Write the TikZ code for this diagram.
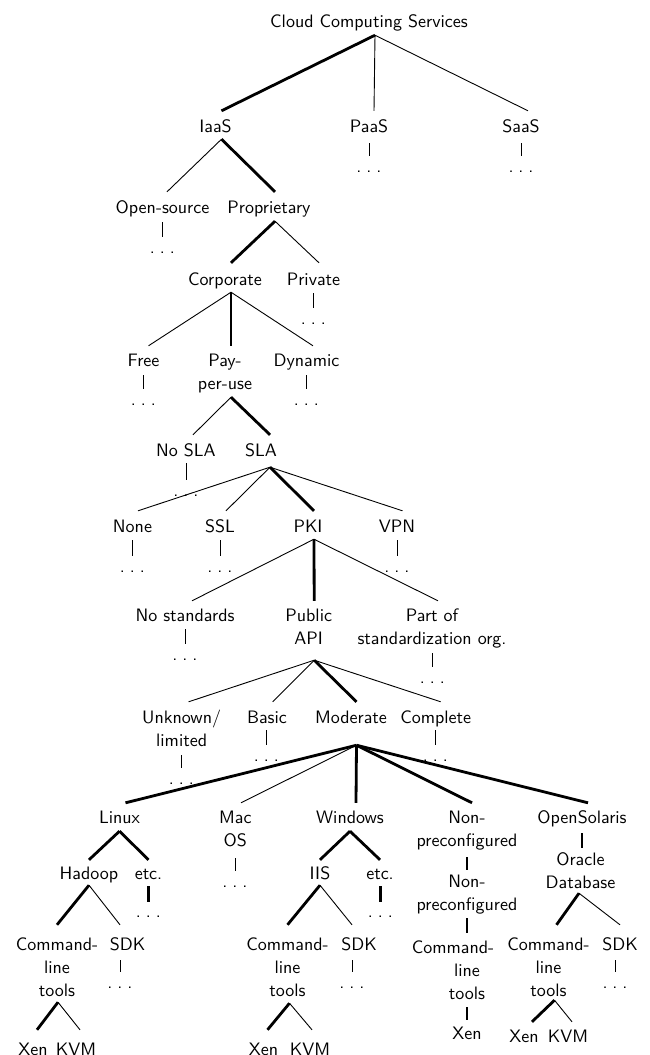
\documentclass[tikz,border=0pt]{standalone}
\usepackage{fontspec}
\newfontfamily\treefont{lmsans10-regular.otf}
\newcommand{\mlt}[1]{\begin{tabular}[t]{@{}c@{}}#1\end{tabular}}
\newcommand{\spreaddots}{.\kern5pt.\kern5pt.}
\tikzset{
  lab/.style={anchor=base, inner sep=0pt},
  dts/.style={anchor=base, inner sep=0pt, text height=16pt, text depth=0pt},
  thinedge/.style={line width=0.9pt},
  thickedge/.style={line width=2.8pt},
}
\begin{document}
\begin{tikzpicture}[x=1pt,y=-1pt,font=\treefont\fontsize{18}{23}\selectfont]
\useasboundingbox (0,0) rectangle (650,1055);
% ---- upper levels
\node[lab,text height=13pt,text depth=8pt] (root) at (369,27) {Cloud Computing Services};
\node[lab,text height=21.5pt,text depth=6.5pt] (iaas) at (215.5,132.5) {IaaS};
\node[lab,text height=21.5pt,text depth=10.5pt] (paas) at (369,132.5) {PaaS};
\node[lab,text height=21.5pt,text depth=10.5pt] (saas) at (521,132.5) {SaaS};
\node[dts] (dpaas) at (369,172) {\spreaddots};
\node[dts] (dsaas) at (521,172) {\spreaddots};
\node[lab,text height=21pt,text depth=9pt] (opensrc) at (162.5,213) {Open-source};
\node[lab,text height=21pt,text depth=8pt] (prop) at (269,213) {Proprietary};
\node[dts] (dopensrc) at (162.5,253) {\spreaddots};
\node[lab,text height=22pt,text depth=7pt] (corp) at (225,285) {Corporate};
\node[lab,text height=22pt,text depth=8pt] (priv) at (313.5,285) {Private};
\node[dts] (dpriv) at (313.5,324.5) {\spreaddots};
\node[lab,text height=20pt,text depth=9pt] (free) at (143.5,366) {Free};
\node[lab,text height=20pt,text depth=31pt] (pay) at (225,366) {\mlt{Pay-\\per-use}};
\node[lab,text height=20pt,text depth=9pt] (dyn) at (306.5,366) {Dynamic};
\node[dts] (dfree) at (143.5,405) {\spreaddots};
\node[dts] (ddyn) at (306.5,405) {\spreaddots};
\node[lab,text height=21pt,text depth=7pt] (nosla) at (186,456) {No SLA};
\node[lab,text height=21pt,text depth=11pt] (sla) at (261,456) {SLA};
\node[dts] (dnosla) at (186,496) {\spreaddots};
\node[lab,text height=21pt,text depth=8pt] (none) at (132.5,532) {None};
\node[lab,text height=21pt,text depth=8pt] (ssl) at (220,532) {SSL};
\node[lab,text height=21pt,text depth=7pt] (pki) at (308,532) {PKI};
\node[lab,text height=21pt,text depth=8pt] (vpn) at (397,532) {VPN};
\node[dts] (dnone) at (132.5,572) {\spreaddots};
\node[dts] (dssl) at (220,572) {\spreaddots};
\node[dts] (dvpn) at (397,572) {\spreaddots};
\node[lab,text height=20pt,text depth=8pt] (nostd) at (185,621) {No standards};
\node[lab,text height=20pt,text depth=39pt] (pub) at (308.7,621) {\mlt{Public\\API}};
\node[lab,text height=20pt,text depth=32pt] (partof) at (432,621) {\mlt{Part of\\standardization org.}};
\node[dts] (dnostd) at (185,660.5) {\spreaddots};
\node[dts] (dpartof) at (432.5,683) {\spreaddots};
\node[lab,text height=21pt,text depth=32pt] (unk) at (181.6,723) {\mlt{Unknown/\\limited}};
\node[lab,text height=21pt,text depth=7pt] (basic) at (267,723) {Basic};
\node[lab,text height=21pt,text depth=22pt] (mod) at (351,723) {Moderate};
\node[lab,text height=21pt,text depth=7pt] (compl) at (435.7,723) {Complete};
\node[dts] (dunk) at (181.3,784.5) {\spreaddots};
\node[dts] (dbasic) at (266.5,761) {\spreaddots};
\node[dts] (dcompl) at (435.3,761) {\spreaddots};
% ---- operating systems
\node[lab,text height=20.5pt,text depth=7.5pt] (linux) at (119.5,823.5) {Linux};
\node[lab,text height=20.5pt,text depth=34.5pt] (mac) at (235.3,823.5) {\mlt{Mac\\OS}};
\node[lab,text height=20.5pt,text depth=7.5pt] (win) at (350,823.5) {Windows};
\node[lab,text height=20.5pt,text depth=33.5pt] (np1) at (467,823.5) {\mlt{Non-\\preconfigured}};
\node[lab,text height=20.5pt,text depth=9.5pt] (os) at (582,823.5) {OpenSolaris};
\node[dts] (dmac) at (235,887) {\spreaddots};
% ---- Linux subtree
\node[lab,text height=19pt,text depth=6pt] (hadoop) at (89,879) {Hadoop};
\node[lab,text height=19pt,text depth=7pt] (etc1) at (148.5,879) {etc.};
\node[dts,text height=15pt] (detc1) at (148.5,917) {\spreaddots};
\node[lab,text height=25pt,text depth=52pt] (cmd1) at (57,950) {\mlt{Command-\\line\\tools}};
\node[lab,text height=25pt,text depth=10pt] (sdk1) at (120,950) {\hspace*{15pt}SDK};
\node[dts] (dsdk1) at (120,988) {\spreaddots};
\node[lab,text height=25pt,text depth=0pt] (xen1) at (33,1055) {Xen};
\node[lab,text height=25pt,text depth=0pt] (kvm1) at (76,1055) {KVM};
% ---- Windows subtree
\node[lab,text height=19pt,text depth=6pt] (iis) at (320,879) {IIS};
\node[lab,text height=19pt,text depth=7pt] (etc2) at (380,879) {etc.};
\node[dts,text height=15pt] (detc2) at (380.5,917) {\spreaddots};
\node[lab,text height=25pt,text depth=53pt] (cmd2) at (287.5,950) {\mlt{Command-\\line\\tools}};
\node[lab,text height=25pt,text depth=10pt] (sdk2) at (352,950) {\hspace*{14pt}SDK};
\node[dts] (dsdk2) at (352,988) {\spreaddots};
\node[lab,text height=25pt,text depth=0pt] (xen2) at (263.5,1055) {Xen};
\node[lab,text height=25pt,text depth=0pt] (kvm2) at (310,1055) {KVM};
% ---- Non-preconfigured subtree
\node[lab,text height=17pt,text depth=31pt] (np2) at (467,887) {\mlt{Non-\\preconfigured}};
\node[lab,text height=20pt,text depth=54pt] (cmd3) at (467,953) {\mlt{\hspace*{-28pt}Command-\\line\\tools}};
\node[lab,text height=19pt,text depth=0pt] (xen3) at (467,1039) {Xen};
% ---- OpenSolaris subtree
\node[lab,text height=17pt,text depth=28pt] (oracle) at (580.5,865) {\mlt{Oracle\\Database}};
\node[lab,text height=25pt,text depth=50pt] (cmd4) at (548.5,950) {\mlt{Command-\\line\\tools}};
\node[lab,text height=25pt,text depth=10pt] (sdk4) at (620,950) {SDK};
\node[dts] (dsdk4) at (615,988) {\spreaddots};
\node[lab,text height=20pt,text depth=0pt] (xen4) at (524,1042) {Xen};
\node[lab,text height=20pt,text depth=0pt] (kvm4) at (568,1042) {KVM};

% ---- connectors
\draw[thickedge] ([xshift=6pt]root.south) -- ([xshift=6pt]iaas.north);
\draw[thinedge] ([xshift=6pt]root.south) -- ([xshift=5pt]paas.north);
\draw[thinedge] ([xshift=6pt]root.south) -- ([xshift=7pt]saas.north);
\draw[thinedge] (dpaas.north |- paas.south) -- (dpaas.north);
\draw[thinedge] (dsaas.north |- saas.south) -- (dsaas.north);
\draw[thinedge] ([xshift=6pt]iaas.south) -- ([xshift=4.5pt]opensrc.north);
\draw[thickedge] ([xshift=6pt]iaas.south) -- ([xshift=6pt]prop.north);
\draw[thinedge] (dopensrc.north |- opensrc.south) -- (dopensrc.north);
\draw[thickedge] ([xshift=6pt]prop.south) -- ([xshift=6pt]corp.north);
\draw[thinedge] ([xshift=6pt]prop.south) -- ([xshift=5.5pt]priv.north);
\draw[thinedge] (dpriv.north |- priv.south) -- (dpriv.north);
\draw[thinedge] ([xshift=6pt]corp.south) -- ([xshift=5pt]free.north);
\draw[thickedge] ([xshift=6pt]corp.south) -- ([xshift=6pt]pay.north);
\draw[thinedge] ([xshift=6pt]corp.south) -- ([xshift=6.5pt]dyn.north);
\draw[thinedge] (dfree.north |- free.south) -- (dfree.north);
\draw[thinedge] (ddyn.north |- dyn.south) -- (ddyn.north);
\draw[thinedge] ([xshift=6pt]pay.south) -- ([xshift=7pt]nosla.north);
\draw[thickedge] ([xshift=6pt]pay.south) -- ([xshift=9pt]sla.north);
\draw[thinedge] (dnosla.north |- nosla.south) -- (dnosla.north);
\draw[thinedge] ([xshift=9pt]sla.south) -- ([xshift=5.5pt]none.north);
\draw[thinedge] ([xshift=9pt]sla.south) -- ([xshift=6pt]ssl.north);
\draw[thickedge] ([xshift=9pt]sla.south) -- ([xshift=6pt]pki.north);
\draw[thinedge] ([xshift=9pt]sla.south) -- ([xshift=5.5pt]vpn.north);
\draw[thinedge] (dnone.north |- none.south) -- (dnone.north);
\draw[thinedge] (dssl.north |- ssl.south) -- (dssl.north);
\draw[thinedge] (dvpn.north |- vpn.south) -- (dvpn.north);
\draw[thinedge] ([xshift=6pt]pki.south) -- ([xshift=7pt]nostd.north);
\draw[thickedge] ([xshift=6pt]pki.south) -- ([xshift=5.5pt]pub.north);
\draw[thinedge] ([xshift=6pt]pki.south) -- ([xshift=6pt]partof.north);
\draw[thinedge] (dnostd.north |- nostd.south) -- (dnostd.north);
\draw[thinedge] (dpartof.north |- partof.south) -- (dpartof.north);
\draw[thinedge] ([xshift=5.5pt]pub.south) -- ([xshift=7pt]unk.north);
\draw[thinedge] ([xshift=5.5pt]pub.south) -- ([xshift=5.6pt]basic.north);
\draw[thickedge] ([xshift=5.5pt]pub.south) -- ([xshift=5.5pt]mod.north);
\draw[thinedge] ([xshift=5.5pt]pub.south) -- ([xshift=5pt]compl.north);
\draw[thinedge] (dunk.north |- unk.south) -- (dunk.north);
\draw[thinedge] (dbasic.north |- basic.south) -- (dbasic.north);
\draw[thinedge] (dcompl.north |- compl.south) -- (dcompl.north);
\draw[thickedge] ([xshift=5.5pt]mod.south) -- ([xshift=6pt]linux.north);
\draw[thinedge] ([xshift=5.5pt]mod.south) -- ([xshift=5.7pt]mac.north);
\draw[thickedge] ([xshift=5.5pt]mod.south) -- ([xshift=6pt]win.north);
\draw[thickedge] ([xshift=5.5pt]mod.south) -- ([xshift=5pt]np1.north);
\draw[thickedge] ([xshift=5.5pt]mod.south) -- ([xshift=6pt]os.north);
\draw[thinedge] (dmac.north |- mac.south) -- (dmac.north);
% Linux
\draw[thickedge] (linux.south) -- (hadoop.north);
\draw[thickedge] (linux.south) -- (etc1.north);
\draw[thickedge] (detc1.north |- etc1.south) -- (detc1.north);
\draw[thickedge] (hadoop.south) -- (cmd1.north);
\draw[thinedge] (hadoop.south) -- (sdk1.north);
\draw[thinedge] (dsdk1.north |- sdk1.south) -- (dsdk1.north);
\draw[thickedge] ([xshift=1pt]cmd1.south) -- ([xshift=4pt]xen1.north);
\draw[thinedge] ([xshift=1pt]cmd1.south) -- ([xshift=4pt]kvm1.north);
% Windows
\draw[thickedge] (win.south) -- (iis.north);
\draw[thickedge] (win.south) -- (etc2.north);
\draw[thickedge] (detc2.north |- etc2.south) -- (detc2.north);
\draw[thickedge] (iis.south) -- (cmd2.north);
\draw[thinedge] (iis.south) -- (sdk2.north);
\draw[thinedge] (dsdk2.north |- sdk2.south) -- (dsdk2.north);
\draw[thickedge] ([xshift=2pt]cmd2.south) -- ([xshift=4pt]xen2.north);
\draw[thinedge] ([xshift=2pt]cmd2.south) -- ([xshift=2pt]kvm2.north);
% Non-preconfigured
\draw[thickedge] (np2.north |- np1.south) -- (np2.north);
\draw[thickedge] (cmd3.north |- np2.south) -- (cmd3.north);
\draw[thickedge] (xen3.north |- cmd3.south) -- (xen3.north);
% OpenSolaris
\draw[thickedge] ([xshift=1.5pt]oracle.north |- os.south) -- ([xshift=1.5pt]oracle.north);
\draw[thickedge] ([xshift=-1.5pt]oracle.south) -- ([xshift=8pt]cmd4.north);
\draw[thinedge] ([xshift=-1.5pt]oracle.south) -- (sdk4.north);
\draw[thinedge] (dsdk4.north |- sdk4.south) -- (dsdk4.north);
\draw[thickedge] ([xshift=6pt]cmd4.south) -- ([xshift=8pt]xen4.north);
\draw[thinedge] ([xshift=6pt]cmd4.south) -- ([xshift=4pt]kvm4.north);
\end{tikzpicture}
\end{document}
